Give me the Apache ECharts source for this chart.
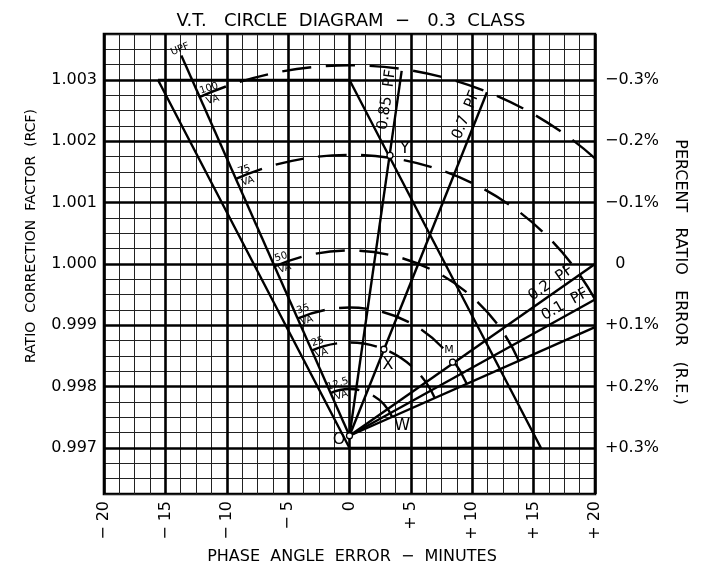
<!DOCTYPE html>
<html><head><meta charset="utf-8">
<script src="https://cdn.jsdelivr.net/npm/echarts@6/dist/echarts.min.js"></script>
<style>html,body{margin:0;padding:0;background:#fff}#c{width:702px;height:568px}</style>
</head><body><div id="c"></div>
<script>
const FONT = "'DejaVu Sans', sans-serif";

// ---- axes ----
const xMin = -20, xMax = 20, xMinor = 1.25;
const xMajor = [-20, -15, -10, -5, 0, 5, 10, 15, 20];
const xTickLabels = ['\u2212 20', '\u2212 15', '\u2212 10', '\u2212 5', '0', '+ 5', '+ 10', '+ 15', '+ 20'];
const yMin = 0.99625, yMax = 1.00375, yMinor = 0.00025;
const rcfTicks = [0.997, 0.998, 0.999, 1.000, 1.001, 1.002, 1.003];
const rcfTickLabels = ['0.997', '0.998', '0.999', '1.000', '1.001', '1.002', '1.003'];
const reTickLabels = ['+0.3%', '+0.2%', '+0.1%', '  0', '\u22120.1%', '\u22120.2%', '\u22120.3%'];

// ---- diagram data ----
const origin = [0, 0.9972];
const classBoxX = [-15.6, 0, 15.6, 0, -15.6];
const classBoxY = [1.003, 1.003, 0.997, 0.997, 1.003];

const pfNames = ['UPF', '0.85 PF', '0.7 PF', '0.2 PF', '0.1 PF', '0 PF'];
const pfEndX = [-13.7, 4.25, 11.2, 20, 20, 20];
const pfEndY = [1.0034, 1.00315, 1.0028, 1.0000, 0.99942, 0.99897];

const pfLabelText = ['UPF', '0.85  PF', '0.7  PF', '0.2  PF', '0.1  PF'];
const pfLabelX = [-13.8, 3.05, 9.5, 16.4, 17.55];
const pfLabelY = [1.0035, 1.00268, 1.00243, 0.99969, 0.99934];
const pfLabelRot = [22, 82, 68, 35, 29];

const vaValues = [100, 75, 50, 35, 25, 12.5];
const vaArcTop = [1.00324, 1.00178, 1.00022, 0.99929, 0.99872, 0.99796];
const vaArcStart = [-24, -24, -24, -24, -24, -24];
const vaArcEnd = [41.5, 60.9, 66.2, 66.2, 66.2, 66.2];
const vaLabelX = [-11.3, -8.43, -5.42, -3.63, -2.44, -0.81];
const vaLabelY = [1.00277, 1.00144, 1.00002, 0.99917, 0.99864, 0.99795];

const pointNames = ['O', 'X', 'Y', 'M'];
const pointX = [0, 2.8, 3.3, 8.4];
const pointY = [0.9972, 0.99861, 1.00177, 0.9984];

const letterText = ['O', 'X', 'Y', 'M', 'W'];
const letterX = [-0.86, 3.14, 4.52, 8.1, 4.28];
const letterY = [0.99713, 0.99835, 1.00188, 0.9986, 0.99736];
const letterSize = [16, 16, 16, 11, 16];

// ---- helpers ----
const near = (a, b) => Math.abs(a - b) < 1e-9;
const fmtFrom = (ticks, labels) => v => { const i = ticks.findIndex(t => near(t, v)); return i < 0 ? '' : labels[i]; };
const BLACK = '#000';
const LW = 2.4;

const chart = echarts.init(document.getElementById('c'), null, { renderer: 'canvas' });

const series = [];

// class parallelogram + major grid lines
series.push({
  type: 'line', name: 'class', silent: true, z: 3,
  data: classBoxX.map((x, i) => [x, classBoxY[i]]),
  symbol: 'none', lineStyle: { color: BLACK, width: LW },
  markLine: {
    silent: true, symbol: ['none', 'none'], label: { show: false }, z: 2, precision: 6,
    lineStyle: { type: 'solid', color: BLACK, width: 2.6 },
    data: xMajor.map(v => ({ xAxis: v })).concat(rcfTicks.map(v => ({ yAxis: v })))
  }
});

// PF lines
pfNames.forEach((n, i) => {
  series.push({
    type: 'line', name: n, silent: true, z: 4, symbol: 'none',
    data: [origin, [pfEndX[i], pfEndY[i]]],
    lineStyle: { color: BLACK, width: LW }
  });
});

// VA arcs (circles about the origin)
series.push({
  type: 'custom', name: 'VA arcs', silent: true, z: 4,
  data: vaArcTop.map((t, i) => [0, t, vaArcStart[i], vaArcEnd[i]]),
  renderItem: (params, api) => {
    const c = api.coord(origin);
    const t = api.coord([origin[0], api.value(1)]);
    const r = c[1] - t[1];
    const a0 = (api.value(2) - 90) * Math.PI / 180;
    const a1 = (api.value(3) - 90) * Math.PI / 180;
    const L = r * (a1 - a0);
    const n = Math.max(0, Math.round((L / 15 - 2) / 3));
    const g = L / (3 * n + 2);
    return {
      type: 'arc',
      shape: { cx: c[0], cy: c[1], r: r, startAngle: a0, endAngle: a1, clockwise: true },
      style: { fill: 'none', stroke: BLACK, lineWidth: LW, lineDash: [2 * g, g] }
    };
  }
});

// point markers
series.push({
  type: 'scatter', name: 'points', silent: true, z: 6,
  data: pointX.map((x, i) => [x, pointY[i]]),
  symbol: 'circle', symbolSize: 6,
  itemStyle: { color: '#fff', borderColor: BLACK, borderWidth: 1.3, opacity: 1 }
});

// text labels (PF, VA, letters)
const labelData = [];
pfLabelText.forEach((t, i) => labelData.push({
  value: [pfLabelX[i], pfLabelY[i]],
  label: { formatter: t, rotate: pfLabelRot[i], fontSize: i === 0 ? 10 : 15 }
}));
vaValues.forEach((v, i) => labelData.push({
  value: [vaLabelX[i], vaLabelY[i]],
  label: { formatter: v + '\nVA', rotate: 18, fontSize: 10, lineHeight: 12 }
}));
letterText.forEach((t, i) => labelData.push({
  value: [letterX[i], letterY[i]],
  label: { formatter: t, rotate: 0, fontSize: letterSize[i] }
}));
series.push({
  type: 'scatter', name: 'labels', silent: true, z: 7,
  data: labelData, symbol: 'circle', symbolSize: 1,
  itemStyle: { color: 'rgba(255,255,255,0)', opacity: 1 },
  label: { show: true, position: 'inside', color: BLACK, opacity: 1, fontFamily: FONT, align: 'center', verticalAlign: 'middle' }
});

const option = {
  animation: false,
  backgroundColor: '#fff',
  title: {
    text: 'V.T.   CIRCLE  DIAGRAM  \u2212   0.3  CLASS',
    left: 'center', top: 7,
    textStyle: { fontSize: 18, fontWeight: 'normal', fontFamily: FONT, color: BLACK }
  },
  grid: { left: 104, right: 107, top: 34, bottom: 74, show: true, borderColor: BLACK, borderWidth: 2.6, backgroundColor: 'transparent' },
  xAxis: {
    type: 'value', min: xMin, max: xMax, interval: xMinor,
    axisLine: { show: false }, axisTick: { show: false },
    splitLine: { show: true, lineStyle: { color: '#222', width: 1 } },
    axisLabel: { formatter: fmtFrom(xMajor, xTickLabels), rotate: 90, margin: 7, fontSize: 16, color: BLACK, fontFamily: FONT, showMinLabel: true, showMaxLabel: true }
  },
  yAxis: [{
    type: 'value', min: yMin, max: yMax, interval: yMinor, position: 'left',
    axisLine: { show: false }, axisTick: { show: false },
    splitLine: { show: true, lineStyle: { color: '#222', width: 1 } },
    axisLabel: { formatter: fmtFrom(rcfTicks, rcfTickLabels), margin: 7, fontSize: 16, color: BLACK, fontFamily: FONT }
  }, {
    type: 'value', min: yMin, max: yMax, interval: yMinor, position: 'right',
    axisLine: { show: false }, axisTick: { show: false }, splitLine: { show: false },
    axisLabel: { formatter: fmtFrom(rcfTicks, reTickLabels), margin: 10, fontSize: 16, color: BLACK, fontFamily: FONT }
  }],
  graphic: [
    { type: 'text', x: 31, y: 236, rotation: Math.PI / 2, silent: true,
      style: { text: 'RATIO  CORRECTION  FACTOR  (RCF)', fontSize: 14, fontFamily: FONT, fill: BLACK, align: 'center', verticalAlign: 'middle' } },
    { type: 'text', x: 680, y: 272, rotation: -Math.PI / 2, silent: true,
      style: { text: 'PERCENT   RATIO   ERROR   (R.E.)', fontSize: 16, fontFamily: FONT, fill: BLACK, align: 'center', verticalAlign: 'middle' } },
    { type: 'text', x: 352, y: 557, silent: true,
      style: { text: 'PHASE  ANGLE  ERROR  \u2212  MINUTES', fontSize: 16, fontFamily: FONT, fill: BLACK, align: 'center', verticalAlign: 'middle' } }
  ],
  series: series
};
chart.setOption(option);
</script>
</body></html>
